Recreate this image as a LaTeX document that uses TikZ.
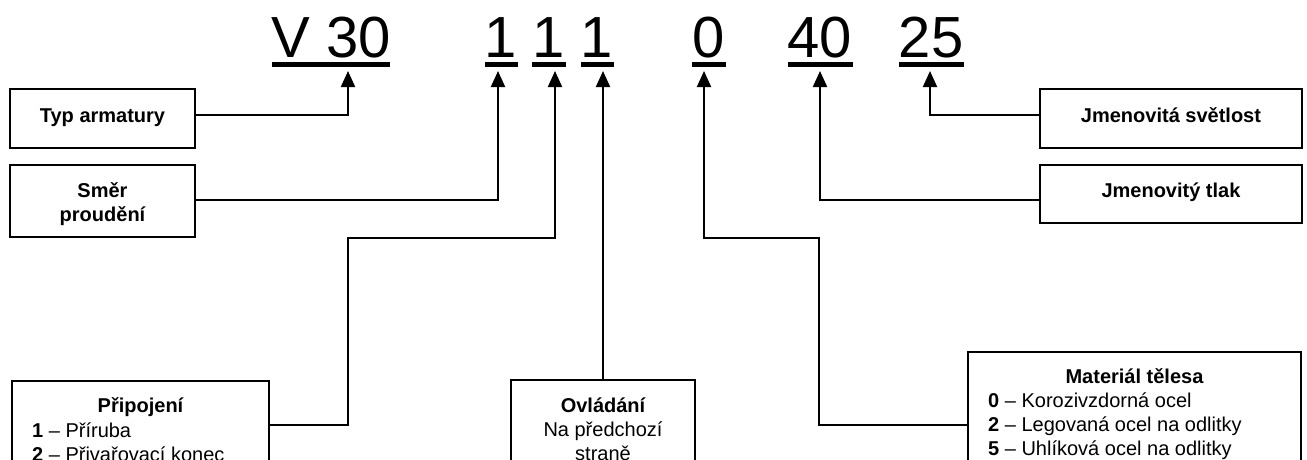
\documentclass[tikz,border=0pt]{standalone}
\usepackage{fontspec}
\setmainfont{Liberation Sans}
\usetikzlibrary{arrows.meta}
\begin{document}
\begin{tikzpicture}[x=1pt,y=-1pt,
  box/.style={draw,line width=2pt,inner sep=0pt},
  lbl/.style={inner sep=0pt,anchor=base,font=\fontsize{20}{24}\selectfont},
  lbll/.style={lbl,anchor=base west},
  codetxt/.style={inner sep=0pt,anchor=base,font=\fontsize{58}{60}\selectfont},
  uline/.style={fill=black,inner sep=0pt,minimum height=5pt},
  conn/.style={line width=2pt,-{Triangle[length=16pt,width=14pt]}}]
\path[use as bounding box,clip] (0,0) rectangle (1307,459);
\fill[white] (0,0) rectangle (1307,459);

% code characters
\node[codetxt] (cV) at (331,57) {V 30};
\node[codetxt] (c1a) at (501,57) {1};
\node[codetxt] (c1b) at (549,57) {1};
\node[codetxt] (c1c) at (597,57) {1};
\node[codetxt] (c0) at (709,57) {0};
\node[codetxt] (c40) at (820,57) {40};
\node[codetxt] (c25) at (931,57) {25};

% underlines
\node[uline,minimum width=118pt] (uV) at (331,64.5) {};
\node[uline,minimum width=33pt] (u1a) at (501.5,64.5) {};
\node[uline,minimum width=34pt] (u1b) at (549,64.5) {};
\node[uline,minimum width=33pt] (u1c) at (597.5,64.5) {};
\node[uline,minimum width=34pt] (u0) at (709,64.5) {};
\node[uline,minimum width=65pt] (u40) at (820.5,64.5) {};
\node[uline,minimum width=65pt] (u25) at (931.5,64.5) {};

% arrow tips
\coordinate (aV) at (348,71);
\coordinate (a1) at (498,71);
\coordinate (a2) at (555,71);
\coordinate (a3) at (603,71);
\coordinate (a0) at (704,71);
\coordinate (a40) at (820,71);
\coordinate (a25) at (930,71);
\coordinate (k2) at (348,238);
\coordinate (k0) at (819,238);

% boxes
\node[box,minimum width=185pt,minimum height=59pt] (typ) at (102.5,118.5) {};
\node[box,minimum width=185pt,minimum height=72pt] (smer) at (102.5,201) {};
\node[box,minimum width=262pt,minimum height=59pt] (svet) at (1171,118.5) {};
\node[box,minimum width=262pt,minimum height=58pt] (tlak) at (1171,194) {};
\node[box,minimum width=257pt,minimum height=88pt] (prip) at (140.5,425) {};
\node[box,minimum width=184pt,minimum height=100pt] (ovl) at (603,430) {};
\node[box,minimum width=333pt,minimum height=146pt] (mat) at (1134.5,425) {};

% box texts
\node[lbl] (ttyp) at (102.5,122) {\bfseries Typ armatury};
\node[lbl] (tsmer1) at (102.5,197) {\bfseries Směr};
\node[lbl] (tsmer2) at (102.5,221) {\bfseries proudění};
\node[lbl] (tsvet) at (1171,122) {\bfseries Jmenovitá světlost};
\node[lbl] (ttlak) at (1171,197) {\bfseries Jmenovitý tlak};

\node[lbl] (tprip) at (140.5,412) {\bfseries Připojení};
\node[lbll] (tprip1) at (32,437) {\bfseries 1\mdseries{} – Příruba};
\node[lbll] (tprip2) at (32,461) {\bfseries 2\mdseries{} – Přivařovací konec};

\node[lbl] (tovl) at (603,412) {\bfseries Ovládání};
\node[lbl] (tovl1) at (603,436) {Na předchozí};
\node[lbl] (tovl2) at (603,460) {straně};

\node[lbl] (tmat) at (1134.5,383) {\bfseries Materiál tělesa};
\node[lbll] (tmat1) at (988,407) {\bfseries 0\mdseries{} – Korozivzdorná ocel};
\node[lbll] (tmat2) at (988,431) {\bfseries 2\mdseries{} – Legovaná ocel na odlitky};
\node[lbll] (tmat3) at (988,455) {\bfseries 5\mdseries{} – Uhlíková ocel na odlitky};

% connectors
\draw[conn] ([yshift=3.5pt]typ.east) -| (aV);
\draw[conn] ([yshift=1pt]smer.east) -| (a1);
\draw[conn] (prip.east) -| (k2) -| (a2);
\draw[conn] (ovl.north) -- (a3);
\draw[conn] (mat.west) -| (k0) -| (a0);
\draw[conn] ([yshift=-6pt]tlak.west) -| (a40);
\draw[conn] ([yshift=3.5pt]svet.west) -| (a25);
\end{tikzpicture}
\end{document}
